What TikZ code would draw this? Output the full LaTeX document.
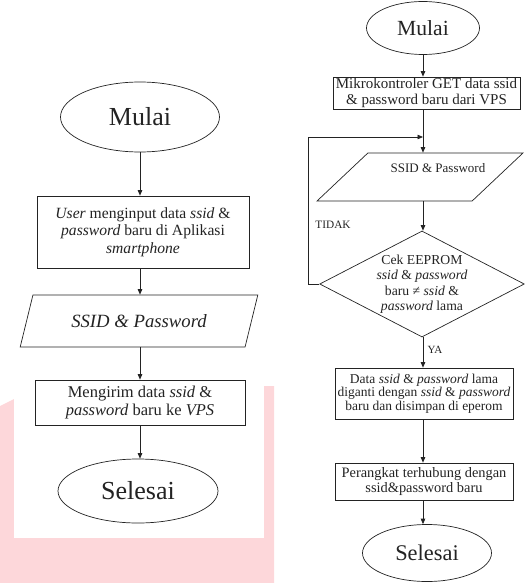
\documentclass[tikz,border=0pt]{standalone}
\usepackage{fontspec}
\setmainfont{Liberation Serif}
\usetikzlibrary{arrows.meta,shapes.geometric}
\definecolor{ink}{RGB}{35,35,35}
\definecolor{pinkbg}{RGB}{253,215,218}
\newcommand{\fs}[2]{\fontsize{#1}{#2}\selectfont}

\begin{document}
\begin{tikzpicture}[x=1pt,y=-1pt,>={Triangle[length=5.5pt,width=4.5pt]},line width=0.7pt,color=ink,
	term/.style={ellipse,draw,inner sep=0pt},
	proses/.style={rectangle,draw,align=center,inner sep=1pt},
	io/.style={trapezium,trapezium left angle=64,trapezium right angle=116,trapezium stretches=true,draw,inner sep=2pt},
	cek/.style={diamond,draw,align=center,inner sep=0pt,aspect=1.93}]
				\useasboundingbox (0,0) rectangle (525,583);
				\fill[pinkbg] (0,406) -- (14,399) -- (264,386) -- (274,386) -- (274,583) -- (0,583) -- cycle;
				\fill[white] (14,60) rectangle (264,538);
				
				\node[term,minimum width=159pt,minimum height=70pt,font=\fs{26}{30}] (mulaiA) at (140,117) {Mulai};
				\node[proses,minimum width=212pt,minimum height=72pt,font=\fs{15.6}{17.5}] (userA) at (143,232)
					{\textit{User} menginput data \textit{ssid} \&\\ \textit{password} baru di Aplikasi\\ \textit{smartphone}};
				\node[io,minimum width=238pt,minimum height=52pt,font=\itshape\fs{18.7}{20}] (ssidA) at (139,321) {SSID \& Password};
				\node[proses,minimum width=210pt,minimum height=45pt,font=\fs{16.5}{18}] (kirimA) at (140,402.5)
					{Mengirim data \textit{ssid} \&\\ \textit{password} baru ke \textit{VPS}};
				\node[term,minimum width=160pt,minimum height=64pt,font=\fs{26}{30}] (selesaiA) at (138,491) {Selesai};
				
				\node[term,minimum width=113pt,minimum height=53pt,font=\fs{21.6}{25}] (mulaiB) at (423,28) {Mulai};
				\node[proses,minimum width=187pt,minimum height=32pt,font=\fs{15}{15.5}] (getB) at (426.5,93)
					{Mikrokontroler GET data ssid\\ \& password baru dari VPS};
				\node[io,minimum width=206pt,minimum height=48pt] (ssidB) at (420,177) {};
				\node[font=\fs{13}{15}] (ssidBtxt) at (438,168) {SSID \& Password};
				\node[cek,font=\fs{13.7}{15.5}] (cekB) at (422,284)
					{Cek EEPROM\\ \textit{ssid} \& \textit{password}\\ baru ≠ \textit{ssid} \&\\ \textit{password} lama};
				\node[proses,minimum width=178pt,minimum height=51pt,font=\fs{13.5}{13.5}] (dataB) at (424,393.5)
					{Data \textit{ssid} \& \textit{password} lama\\ diganti dengan \textit{ssid} \& \textit{password}\\ baru dan disimpan di eperom};
				\node[proses,minimum width=178pt,minimum height=37pt,font=\fs{14.4}{13}] (linkB) at (424,481.5)
					{Perangkat terhubung dengan\\ ssid\&password baru};
				\node[term,minimum width=129pt,minimum height=57pt,font=\fs{22.4}{26}] (selesaiB) at (427,553) {Selesai};
				\node[font=\fs{11.3}{13}] (tidak) at (333,225) {TIDAK};
				\node[font=\fs{11}{13}] (ya) at (435,350) {YA};
				\coordinate (loopB) at (308,137);
				\coordinate (joinB) at (423,137);
				
				\foreach \a/\b in {mulaiA/userA,userA/ssidA,ssidA/kirimA,kirimA/selesaiA}
					\draw[->] (mulaiA |- \a.south) -- (mulaiA |- \b.north);
				\foreach \a/\b in {mulaiB/getB,getB/ssidB,ssidB/cekB,cekB/dataB,dataB/linkB,linkB/selesaiB}
					\draw[->] (mulaiB |- \a.south) -- (mulaiB |- \b.north);
				\draw[->] (cekB.west) -| (loopB) -- (joinB);
	\end{tikzpicture}
\end{document}
